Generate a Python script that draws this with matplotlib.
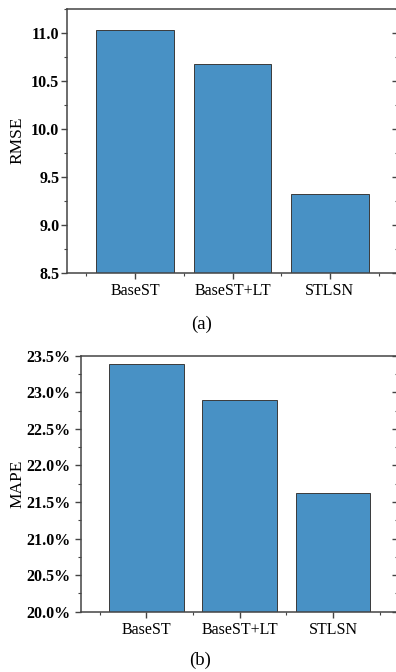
import matplotlib
matplotlib.use('Agg')
import matplotlib.pyplot as plt
from matplotlib.ticker import MultipleLocator, FixedLocator, FuncFormatter

models = ['BaseST', 'BaseST+LT', 'STLSN']
rmse = [11.03, 10.67, 9.32]
mape = [23.39, 22.89, 21.62]

BAR_COLOR = '#4891c5'
EDGE_COLOR = '#3a3a3a'
SPINE_COLOR = '#444444'

plt.rc('font', family=['Liberation Serif', 'DejaVu Serif'], size=11)


def style_axis(ax, major, minor, pad):
    for side in ['left', 'bottom', 'top', 'right']:
        ax.spines[side].set_color(SPINE_COLOR)
        ax.spines[side].set_linewidth(1.1)
    ax.set_xlim(-0.7, 2.7)
    ax.xaxis.set_minor_locator(FixedLocator([-0.5, 0.5, 1.5, 2.5]))
    ax.yaxis.set_major_locator(MultipleLocator(major))
    ax.yaxis.set_minor_locator(MultipleLocator(minor))
    ax.tick_params(which='major', length=4, width=1, color=SPINE_COLOR, direction='out')
    ax.tick_params(which='minor', length=2.2, width=0.8, color=SPINE_COLOR, direction='out')
    ax.tick_params(axis='x', which='major', labelsize=11.5, pad=3.5)
    ax.tick_params(axis='y', which='major', labelsize=11.5, pad=pad)
    # inward ticks on the right side, no labels
    sec = ax.secondary_yaxis('right')
    sec.yaxis.set_major_locator(MultipleLocator(major))
    sec.yaxis.set_minor_locator(MultipleLocator(minor))
    sec.tick_params(which='major', direction='in', length=4, width=1, color=SPINE_COLOR, labelright=False)
    sec.tick_params(which='minor', direction='in', length=2.2, width=0.8, color=SPINE_COLOR, labelright=False)
    sec.spines['right'].set_color(SPINE_COLOR)


fig = plt.figure(figsize=(3.96, 6.72), dpi=100)

# (a) RMSE
ax1 = fig.add_axes([0.1692, 0.5942, 0.836, 0.3931])
ax1.bar(models, rmse, width=0.8, color=BAR_COLOR, edgecolor=EDGE_COLOR, linewidth=0.7)
ax1.set_ylim(8.5, 11.25)
style_axis(ax1, 0.5, 0.25, 1.5)
ax1.yaxis.set_major_formatter(FuncFormatter(lambda v, p: '{:.1f}'.format(v)))
for lab in ax1.get_yticklabels():
    lab.set_fontweight('bold')
ax1.set_ylabel('RMSE', fontsize=12.5)
ax1.yaxis.set_label_coords(25 / 396, 1 - 140.5 / 672, transform=fig.transFigure)

# (b) MAPE
ax2 = fig.add_axes([0.2045, 0.0897, 0.8018, 0.381])
ax2.bar(models, mape, width=0.8, color=BAR_COLOR, edgecolor=EDGE_COLOR, linewidth=0.7)
ax2.set_ylim(20.0, 23.5)
style_axis(ax2, 0.5, 0.25, 3.5)
ax2.yaxis.set_major_formatter(FuncFormatter(lambda v, p: '{:.1f}%'.format(v)))
for lab in ax2.get_yticklabels():
    lab.set_fontweight('bold')
ax2.set_ylabel('MAPE', fontsize=12.5)
ax2.yaxis.set_label_coords(25 / 396, 1 - 483.5 / 672, transform=fig.transFigure)

fig.text(202 / 396, 1 - 324 / 672, '(a)', ha='center', va='center', fontsize=13.5)
fig.text(200.5 / 396, 1 - 660 / 672, '(b)', ha='center', va='center', fontsize=13.5)

fig.savefig('out.png', dpi=100)
